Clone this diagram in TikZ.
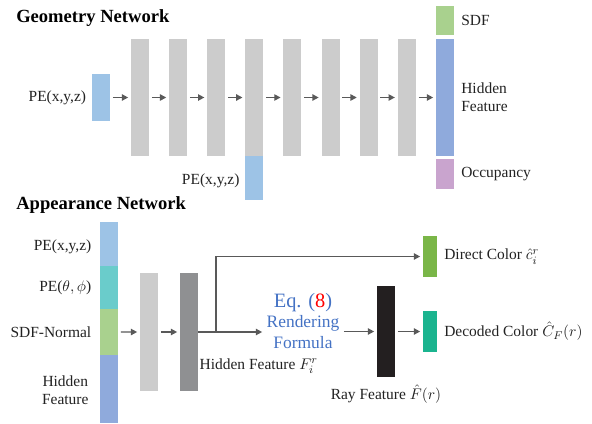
\documentclass[tikz,border=0pt]{standalone}
\usepackage{amsmath,amssymb}
\usepackage{fontspec}
\setmainfont{Liberation Serif}
\newfontfamily\labelfont{Liberation Serif}
\usepackage{xcolor}
\usetikzlibrary{arrows.meta, positioning}

\definecolor{layergray}{HTML}{CCCCCC}
\definecolor{peblue}{HTML}{9DC3E6}
\definecolor{sdfgreen}{HTML}{A9D18E}
\definecolor{hidblue}{HTML}{8FAADC}
\definecolor{occpurple}{HTML}{C9A4CE}
\definecolor{dirteal}{HTML}{6ACCCB}
\definecolor{midgray}{HTML}{8F9092}
\definecolor{rayblack}{HTML}{231F20}
\definecolor{directgreen}{HTML}{7AB648}
\definecolor{decodedteal}{HTML}{1BB48F}
\definecolor{arrowgray}{HTML}{595959}
\definecolor{eqblue}{HTML}{4472C4}
\definecolor{txt}{HTML}{222222}

\begin{document}
\begin{tikzpicture}[x=0.025cm, y=-0.025cm,
  blk/.style={inner sep=0pt, outer sep=0pt, minimum width=0.45cm},
  thinblk/.style={blk, minimum width=0.35cm, minimum height=1.025cm},
  arr/.style={-{Triangle[length=4.5pt,width=4.5pt]}, draw=arrowgray, line width=1pt,
    shorten <=2pt, shorten >=2pt},
  lbl/.style={text=txt, font=\labelfont\fontsize{11}{13}\selectfont, inner sep=1pt},
  ttl/.style={font=\labelfont\fontsize{13.2}{15}\selectfont\bfseries, text=black, inner sep=0pt}]
  \useasboundingbox (0,0) rectangle (592,423);

  % ---- Geometry network ----
  \node[ttl, anchor=base west] (geotitle) at (16,22) {Geometry Network};

  \node[blk, fill=peblue, minimum height=1.15cm] (pein) at (101,97.5) {};
  \node[lbl, left=3pt of pein] {PE(x,y,z)};

  % hidden layers
  \foreach \i in {1,...,8}
    \node[blk, fill=layergray, minimum height=2.925cm] (g\i) at ({140+(\i-1)*38.1},97.5) {};

  % output column
  \node[blk, fill=hidblue, minimum height=2.925cm] (hid) at (445,97.5) {};
  \node[blk, fill=sdfgreen, minimum height=0.725cm] (sdf) at (445,20.5) {};
  \node[blk, fill=occpurple, minimum height=0.75cm] (occ) at (445,174) {};
  \node[lbl, right=4pt of sdf] {SDF};
  \node[lbl, right=4pt of hid, align=left] {Hidden\\Feature};
  \node[lbl, right=4pt of occ] {Occupancy};

  % skip input into the 4th layer
  \node[blk, fill=peblue, minimum height=1.1cm, anchor=north] (peskip) at (g4.south) {};
  \node[lbl, left=3pt of peskip, yshift=-2pt] {PE(x,y,z)};

  \draw[arr] (pein) -- (g1);
  \foreach \i [count=\j from 2] in {1,...,7}
    \draw[arr] (g\i) -- (g\j);
  \draw[arr] (g8) -- (hid);

  % ---- Appearance network ----
  \node[ttl, anchor=base west] (apptitle) at (16,209) {Appearance Network};

  % stacked input
  \node[blk, fill=peblue, minimum height=1.1cm] (axyz) at (109,244) {};
  \node[blk, fill=dirteal, minimum height=1.075cm, below=0pt of axyz] (adir) {};
  \node[blk, fill=sdfgreen, minimum height=1.15cm, below=0pt of adir] (anorm) {};
  \node[blk, fill=hidblue, minimum height=1.7cm, below=0pt of anorm] (ahid) {};
  \node[lbl, left=5pt of axyz, yshift=-2pt] {PE(x,y,z)};
  \node[lbl, left=5pt of adir] {PE($\theta,\phi$)};
  \node[lbl, left=5pt of anorm] {SDF-Normal};
  \node[lbl, left=7pt of ahid, align=center, yshift=-1pt] {Hidden\\Feature};

  \node[blk, fill=layergray, minimum height=2.95cm] (a1) at (149,332) {};
  \node[blk, fill=midgray, minimum height=2.95cm] (a2) at (189,332) {};
  \draw[arr] (anorm.east) -- (a1.west);
  \draw[arr] (a1) -- (a2);
  \node[lbl, anchor=west] (hidlbl) at (198,366) {Hidden Feature $F_i^r$};

  % rendering formula
  \node[text=eqblue, align=center, inner sep=1pt, font=\labelfont\fontsize{12.4}{14.5}\selectfont] (render) at (303,321)
    {{\fontsize{14.5}{16}\selectfont Eq. (\textcolor{red}{8})}\\Rendering\\Formula};

  \node[blk, fill=rayblack, minimum height=2.25cm] (ray) at (386,331.5) {};
  \node[lbl, below=5pt of ray] {Ray Feature $\hat{F}(r)$};

  \node[thinblk, fill=directgreen] (direct) at (430,256.5) {};
  \node[thinblk, fill=decodedteal] (decoded) at (430,331.5) {};
  \node[lbl, right=4pt of direct] {Direct Color $\hat{c}_i^r$};
  \node[lbl, right=4pt of decoded] {Decoded Color $\hat{C}_F(r)$};

  % hidden feature goes to the formula and, split off, to the direct color
  \coordinate (split) at (216,332);
  \draw[arr, shorten <=0pt] (a2.east) -- (a2.east -| render.west);
  \draw[arr, shorten <=0pt] (split) |- (direct.west);
  \draw[arr] (render.east |- ray.west) -- (ray.west);
  \draw[arr] (ray) -- (decoded);
\end{tikzpicture}
\end{document}
